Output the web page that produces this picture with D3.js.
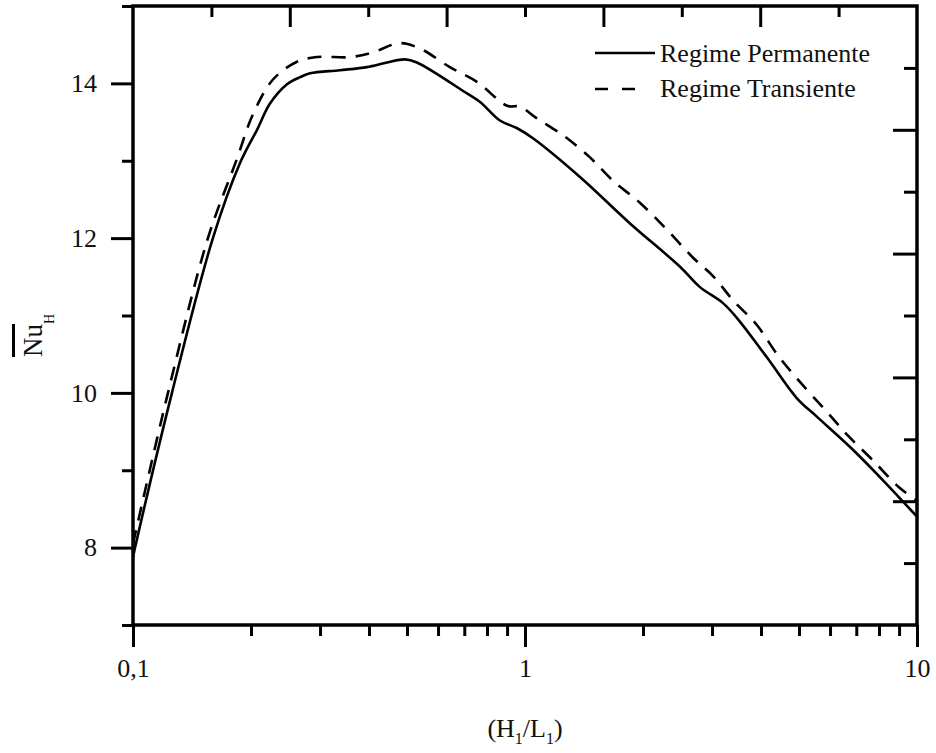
<!DOCTYPE html>
<html>
<head>
<meta charset="utf-8">
<script src="https://cdn.jsdelivr.net/npm/d3@7"></script>
<style>
  body { margin: 0; background: #fff; }
  svg { display: block; }
  text { font-family: "Liberation Serif", "Times New Roman", serif; fill: #111; }
</style>
</head>
<body>
<div id="chart"></div>
<script>
// Regime Permanente (linha cheia)
var permX = [0.1, 0.1012, 0.1257, 0.1599, 0.1875, 0.2072, 0.2236, 0.2471, 0.2667, 0.283,
             0.337, 0.395, 0.445, 0.494, 0.53, 0.711, 0.768, 0.863, 0.955, 1.048, 1.381, 1.853, 2.486,
             2.79, 3.2, 3.47, 4.14, 4.94, 5.56, 6.75, 8.19, 10];
var permY = [7.88, 8.0, 10.0, 12.0, 12.97, 13.40, 13.74, 13.99, 14.08, 14.13,
             14.17, 14.21, 14.27, 14.31, 14.27, 13.87, 13.76, 13.52, 13.42, 13.29, 12.79, 12.19, 11.63,
             11.37, 11.16, 10.97, 10.46, 9.93, 9.69, 9.30, 8.87, 8.40];

// Regime Transiente (tracejada)
var transX = [0.1, 0.1228, 0.1553, 0.184, 0.2023, 0.2276, 0.262, 0.2945, 0.358,
              0.409, 0.479, 0.5395, 0.643, 0.754, 0.90, 0.97, 1.07, 1.25, 1.46, 1.67, 1.97, 2.31,
              2.68, 3.03, 3.39, 3.9, 4.41, 4.97, 5.83, 6.66, 7.71, 9.04, 10];
var transY = [8.05, 10.0, 12.0, 13.02, 13.6, 14.05, 14.28, 14.34, 14.34,
              14.40, 14.52, 14.45, 14.21, 14.02, 13.71, 13.70, 13.55, 13.33, 13.05, 12.75, 12.45, 12.10,
              11.75, 11.50, 11.20, 10.88, 10.49, 10.17, 9.78, 9.45, 9.13, 8.77, 8.61];

var xMajor = [0.1, 1, 10];
var xMajorLabels = ["0,1", "1", "10"];
var xMinor = [0.2, 0.3, 0.4, 0.5, 0.6, 0.7, 0.8, 0.9, 2, 3, 4, 5, 6, 7, 8, 9];
var yMajor = [8, 10, 12, 14];
var yMinor = [7, 9, 11, 13, 15];
var seriesNames = ["Regime Permanente", "Regime Transiente"];

var W = 936, H = 753;
var margin = {top: 6, right: 19, bottom: 128, left: 133};
var w = W - margin.left - margin.right,
    h = H - margin.top - margin.bottom;

var svg = d3.select("#chart").append("svg")
    .attr("width", W).attr("height", H);
var g = svg.append("g")
    .attr("transform", "translate(" + margin.left + "," + margin.top + ")");

var x = d3.scaleLog().domain([0.1, 10]).range([0, w]);
var y = d3.scaleLinear().domain([7, 15]).range([h, 0]);
// eixos de cima e da direita: 10 divisoes sem rotulos
var xTop = d3.scaleLinear().domain([0, 10]).range([0, w]);
var yRight = d3.scaleLinear().domain([0, 10]).range([0, h]);

function styleAxis(sel) {
  sel.select(".domain").remove();
  sel.selectAll(".tick line").attr("stroke", "#000").attr("stroke-width", 3);
  sel.selectAll(".tick text").style("font-size", "26px").attr("fill", "#111");
}

// eixo x inferior
g.append("g").attr("transform", "translate(0," + h + ")")
  .call(d3.axisBottom(x).tickValues(xMajor).tickSize(22).tickPadding(12)
        .tickFormat(function(d, i) { return xMajorLabels[i]; }))
  .call(styleAxis);
g.append("g").attr("transform", "translate(0," + h + ")")
  .call(d3.axisBottom(x).tickValues(xMinor).tickSize(11).tickFormat(""))
  .call(styleAxis);

// eixo y esquerdo
g.append("g")
  .call(d3.axisLeft(y).tickValues(yMajor).tickSize(22).tickPadding(14))
  .call(styleAxis);
g.append("g")
  .call(d3.axisLeft(y).tickValues(yMinor).tickSize(11).tickFormat(""))
  .call(styleAxis);

// eixo superior (ticks para dentro)
g.append("g")
  .call(d3.axisBottom(xTop).tickValues([2, 4, 6, 8]).tickSize(21).tickFormat(""))
  .call(styleAxis);
g.append("g")
  .call(d3.axisBottom(xTop).tickValues([1, 3, 5, 7, 9]).tickSize(11).tickFormat(""))
  .call(styleAxis);

// eixo direito (ticks para dentro)
g.append("g").attr("transform", "translate(" + w + ",0)")
  .call(d3.axisLeft(yRight).tickValues([2, 4, 6, 8]).tickSize(24).tickFormat(""))
  .call(styleAxis);
g.append("g").attr("transform", "translate(" + w + ",0)")
  .call(d3.axisLeft(yRight).tickValues([1, 3, 5, 7, 9]).tickSize(13).tickFormat(""))
  .call(styleAxis);

// moldura
g.append("rect")
  .attr("width", w).attr("height", h)
  .attr("fill", "none").attr("stroke", "#000").attr("stroke-width", 3.5);

var line = d3.line()
  .x(function(d) { return x(d[0]); })
  .y(function(d) { return y(d[1]); })
  .curve(d3.curveCatmullRom.alpha(0.5));

g.append("path")
  .datum(d3.zip(permX, permY))
  .attr("d", line)
  .attr("fill", "none").attr("stroke", "#000").attr("stroke-width", 2.6);

g.append("path")
  .datum(d3.zip(transX, transY))
  .attr("d", line)
  .attr("fill", "none").attr("stroke", "#000").attr("stroke-width", 2.6)
  .attr("stroke-dasharray", "14,10");

// legenda
var leg = svg.append("g").attr("transform", "translate(595,53)");
leg.append("line").attr("x1", 0).attr("x2", 60).attr("y1", 0).attr("y2", 0)
  .attr("stroke", "#000").attr("stroke-width", 2.6);
leg.append("line").attr("x1", 0).attr("x2", 41).attr("y1", 36).attr("y2", 36)
  .attr("stroke", "#000").attr("stroke-width", 2.6).attr("stroke-dasharray", "13,14");
leg.selectAll("text.leg").data(seriesNames).enter().append("text")
  .attr("class", "leg")
  .attr("x", 65).attr("y", function(d, i) { return 9 + i * 35; })
  .style("font-size", "26px")
  .text(function(d) { return d; });

// rotulo eixo x
var xl = svg.append("text")
  .attr("x", 525).attr("y", 737)
  .attr("text-anchor", "middle")
  .style("font-size", "26px");
xl.append("tspan").text("(H");
xl.append("tspan").attr("dy", 7).style("font-size", "16px").text("1");
xl.append("tspan").attr("dy", -7).text("/L");
xl.append("tspan").attr("dy", 7).style("font-size", "16px").text("1");
xl.append("tspan").attr("dy", -7).text(")");

// rotulo eixo y
var yl = svg.append("text")
  .attr("transform", "translate(42,357) rotate(-90)")
  .style("font-size", "27px");
var nu = yl.append("tspan").text("Nu");
yl.append("tspan").attr("dy", 12).style("font-size", "14px").text("H");
var nuLen = nu.node().getComputedTextLength();
svg.append("line")
  .attr("x1", 13.5).attr("x2", 13.5)
  .attr("y1", 357).attr("y2", 357 - nuLen)
  .attr("stroke", "#000").attr("stroke-width", 3);
</script>
</body>
</html>
